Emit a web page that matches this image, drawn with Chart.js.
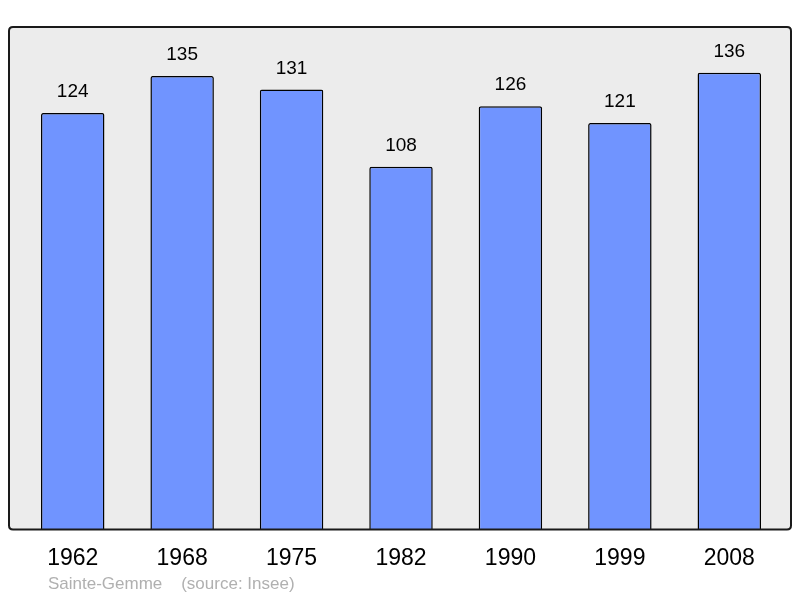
<!DOCTYPE html>
<html>
<head>
<meta charset="utf-8">
<script src="https://cdn.jsdelivr.net/npm/chart.js@4/dist/chart.umd.min.js"></script>
<style>
html,body{margin:0;padding:0;background:#fff;}
#wrap{width:800px;height:598px;position:relative;}
</style>
</head>
<body>
<div id="wrap"><canvas id="c" width="800" height="598"></canvas></div>
<script>
const years = ['1962','1968','1975','1982','1990','1999','2008'];
const population = [124,135,131,108,126,121,136];
const sourceText = 'Sainte-Gemme\u00a0\u00a0\u00a0\u00a0(source: Insee)';

const boxPlugin = {
  id: 'box',
  beforeDatasetsDraw(chart) {
    const {ctx, chartArea} = chart;
    ctx.save();
    roundRect(ctx, 9, chartArea.top, 782, chartArea.bottom - chartArea.top, 4);
    ctx.fillStyle = '#ececec';
    ctx.fill();
    ctx.restore();
  },
  afterDatasetsDraw(chart) {
    const {ctx, chartArea} = chart;
    ctx.save();
    roundRect(ctx, 9, chartArea.top, 782, chartArea.bottom - chartArea.top, 4);
    ctx.lineWidth = 2;
    ctx.strokeStyle = '#1a1a1a';
    ctx.stroke();
    // value labels
    const meta = chart.getDatasetMeta(0);
    ctx.fillStyle = '#000';
    ctx.font = '19px "Liberation Sans", Arial, sans-serif';
    ctx.textAlign = 'center';
    ctx.textBaseline = 'middle';
    meta.data.forEach((bar, i) => {
      ctx.fillText(String(chart.data.datasets[0].data[i]), bar.x, bar.y - 21);
    });
    // source
    ctx.fillStyle = '#b0b0b0';
    ctx.font = '17px "Liberation Sans", Arial, sans-serif';
    ctx.textAlign = 'left';
    ctx.fillText(sourceText, 48, 584);
    ctx.restore();
  }
};
function roundRect(ctx, x, y, w, h, r) {
  ctx.beginPath();
  ctx.moveTo(x + r, y);
  ctx.lineTo(x + w - r, y);
  ctx.quadraticCurveTo(x + w, y, x + w, y + r);
  ctx.lineTo(x + w, y + h - r);
  ctx.quadraticCurveTo(x + w, y + h, x + w - r, y + h);
  ctx.lineTo(x + r, y + h);
  ctx.quadraticCurveTo(x, y + h, x, y + h - r);
  ctx.lineTo(x, y + r);
  ctx.quadraticCurveTo(x, y, x + r, y);
  ctx.closePath();
}

new Chart(document.getElementById('c'), {
  type: 'bar',
  data: {
    labels: years,
    datasets: [{
      data: population,
      backgroundColor: '#7094ff',
      borderColor: '#000',
      borderWidth: 1.5,
      borderRadius: 2,
      borderSkipped: 'bottom',
      barPercentage: 0.58,
      categoryPercentage: 1.0
    }]
  },
  options: {
    responsive: false,
    animation: false,
    devicePixelRatio: 1,
    layout: { padding: { left: 18, right: 16, top: 27, bottom: 11 } },
    plugins: { legend: { display: false }, tooltip: { enabled: false } },
    scales: {
      x: {
        grid: { display: false, drawTicks: false },
        border: { display: false },
        ticks: { color: '#000', font: { size: 23, family: '"Liberation Sans", Arial, sans-serif' }, padding: 15, maxRotation: 0 }
      },
      y: { display: false, min: 0, max: 149.6 }
    }
  },
  plugins: [boxPlugin]
});
</script>
</body>
</html>
